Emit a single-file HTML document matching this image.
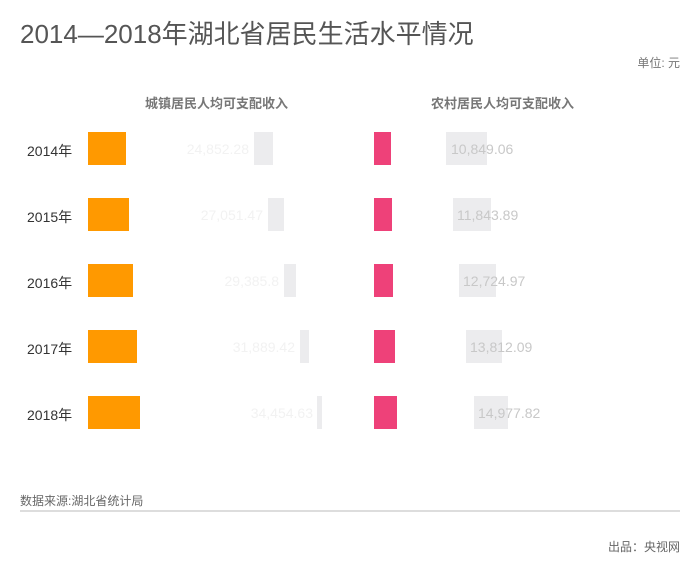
<!DOCTYPE html><html><head><meta charset="utf-8"><style>
body{margin:0;width:700px;height:576px;background:#fff;position:relative;font-family:"Liberation Sans","Noto Sans CJK SC",sans-serif;overflow:hidden}
div{position:absolute}
.t{white-space:nowrap}
.o{background:#ff9900;left:88px;height:33px}
.p{background:#ee4179;left:374px;height:33px}
.g{background:#ececee;height:33px}
.y{left:27px;font-size:14px;color:#333}
.lw{font-size:14px;color:#f2f2f2;text-align:right;width:100px}
.lr{font-size:14px;color:#c8c8c8}
</style></head><body>
<div class="t" style="left:20px;top:14px;font-size:26px;color:#555">2014—2018年湖北省居民生活水平情况</div>
<div class="t" style="right:20px;top:54px;font-size:12px;color:#777">单位: 元</div>
<div class="t" style="left:145px;top:93px;font-size:13px;color:#777;font-weight:bold">城镇居民人均可支配收入</div>
<div class="t" style="left:431px;top:93px;font-size:13px;color:#777;font-weight:bold">农村居民人均可支配收入</div>

<div class="t y" style="top:141px">2014年</div>
<div class="o" style="top:132px;width:38px"></div>
<div class="g" style="top:132px;left:254px;width:19px"></div>
<div class="t lw" style="top:141px;left:149px">24,852.28</div>
<div class="p" style="top:132px;width:17px"></div>
<div class="g" style="top:132px;left:446px;width:41px"></div>
<div class="t lr" style="top:141px;left:451px">10,849.06</div>

<div class="t y" style="top:207px">2015年</div>
<div class="o" style="top:198px;width:41px"></div>
<div class="g" style="top:198px;left:268px;width:16px"></div>
<div class="t lw" style="top:207px;left:163px">27,051.47</div>
<div class="p" style="top:198px;width:18px"></div>
<div class="g" style="top:198px;left:453px;width:38px"></div>
<div class="t lr" style="top:207px;left:457px">11,843.89</div>

<div class="t y" style="top:273px">2016年</div>
<div class="o" style="top:264px;width:45px"></div>
<div class="g" style="top:264px;left:284px;width:12px"></div>
<div class="t lw" style="top:273px;left:179px">29,385.8</div>
<div class="p" style="top:264px;width:19px"></div>
<div class="g" style="top:264px;left:459px;width:37px"></div>
<div class="t lr" style="top:273px;left:463px">12,724.97</div>

<div class="t y" style="top:339px">2017年</div>
<div class="o" style="top:330px;width:49px"></div>
<div class="g" style="top:330px;left:300px;width:9px"></div>
<div class="t lw" style="top:339px;left:195px">31,889.42</div>
<div class="p" style="top:330px;width:21px"></div>
<div class="g" style="top:330px;left:466px;width:36px"></div>
<div class="t lr" style="top:339px;left:470px">13,812.09</div>

<div class="t y" style="top:405px">2018年</div>
<div class="o" style="top:396px;width:52px"></div>
<div class="g" style="top:396px;left:317px;width:5px"></div>
<div class="t lw" style="top:405px;left:213px">34,454.63</div>
<div class="p" style="top:396px;width:23px"></div>
<div class="g" style="top:396px;left:474px;width:34px"></div>
<div class="t lr" style="top:405px;left:478px">14,977.82</div>

<div class="t" style="left:20px;top:492px;font-size:12px;color:#666">数据来源:湖北省统计局</div>
<div style="left:20px;top:510px;width:660px;height:2px;background:#ddd"></div>
<div class="t" style="right:20px;top:538px;font-size:12px;color:#666">出品：央视网</div>
</body></html>
